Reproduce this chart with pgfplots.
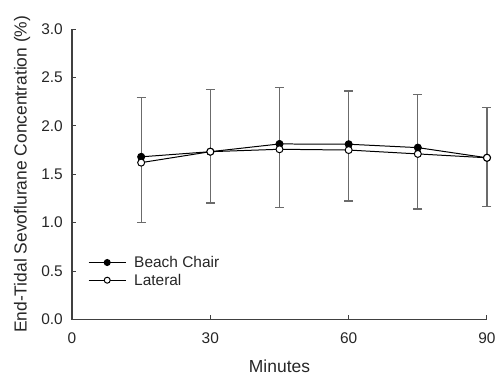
\documentclass[border=0pt]{standalone}
\usepackage{pgfplots}
\pgfplotsset{compat=1.18}
\usepackage{pgfplotstable}
\usepackage{fontspec}
\setmainfont{Liberation Sans}
\pgfplotstableread{
x bc lat ep em
15 1.680 1.620 0.615 0.680
30 1.733 1.733 0.640 0.530
45 1.813 1.758 0.580 0.660
60 1.810 1.750 0.550 0.585
75 1.775 1.710 0.545 0.635
90 1.670 1.670 0.520 0.505
}\data
\begin{document}
\begin{tikzpicture}
\begin{axis}[
  width=415bp, height=290.5bp, scale only axis,
  xmin=0, xmax=90, ymin=0, ymax=3,
  axis lines=left, axis line style={-, line width=1.2pt, black!75},
  xtick={0,30,60,90}, ytick={0,0.5,...,3},
  yticklabel style={/pgf/number format/fixed, /pgf/number format/fixed zerofill, /pgf/number format/precision=1},
  /pgf/number format/assume math mode=true,
  tick style={black!75, line width=1pt}, major tick length=4.5bp,
  tick align=inside,
  ticklabel style={font=\fontsize{15.5}{17}\selectfont, text=black!85, inner sep=0pt},
  xticklabel style={anchor=north, yshift=-13.5bp},
  yticklabel style={anchor=east, xshift=-9bp},
  xlabel={Minutes}, ylabel={End-Tidal Sevoflurane Concentration (\%)},
  label style={font=\fontsize{17.5}{20}\selectfont, text=black!85},
  xlabel style={at={([yshift=-46.5bp]axis description cs:0.5,0)}, anchor=center},
  ylabel style={at={([xshift=-50bp]axis description cs:0,0.5)}, anchor=center},
  clip=false,
  legend style={draw=none, fill=none, at={(axis description cs:0.0386,0.1657)}, anchor=west,
    inner sep=0pt, font=\fontsize{15.5}{17}\selectfont, row sep=2bp, column sep=8bp, text=black!85,
    nodes={inner ysep=1.5bp, inner xsep=0pt}},
  legend cell align=left,
  legend image code/.code={\draw[mark repeat=2, mark phase=2, #1, mark size=3bp] plot coordinates {(0bp,0bp) (18.5bp,0bp) (37bp,0bp)};},
]
\addplot[draw=none, mark=none, forget plot, error bars/.cd, y dir=both, y explicit,
  error bar style={line width=1.3pt, black!58},
  error mark options={rotate=90, mark size=4.5bp, line width=1.3pt, black!58}]
  table[x=x, y=bc, y error plus=ep, y error minus=em] {\data};
\addplot[black, line width=1pt, mark=*, mark size=3.5bp, mark options={fill=black}] table[x=x, y=bc] {\data};
\addlegendentry{Beach Chair}
\addplot[black, line width=1pt, mark=*, mark size=3.5bp, mark options={fill=white}] table[x=x, y=lat] {\data};
\addlegendentry{Lateral}
\coordinate (O) at (rel axis cs:0,0);
\end{axis}
\pgfresetboundingbox
\path[use as bounding box] ([xshift=-72bp,yshift=-57.5bp]O) rectangle ++(500bp,377bp);
\end{tikzpicture}
\end{document}
